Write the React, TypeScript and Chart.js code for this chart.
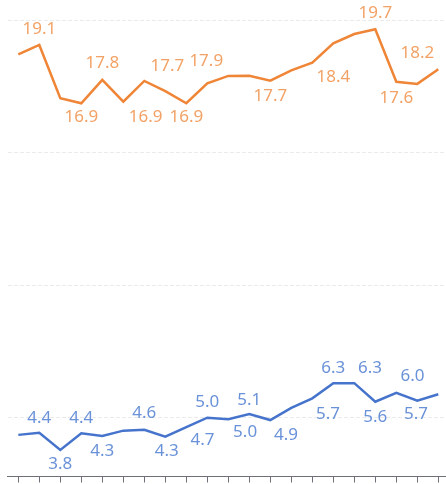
import React, { useEffect, useRef } from "react";
import { Chart, registerables } from "chart.js";

Chart.register(...registerables);

const categories = ["1", "2", "3", "4", "5", "6", "7", "8", "9", "10", "11", "12", "13", "14", "15", "16", "17", "18", "19", "20", "21"];

const orangeValues = [18.7, 19.06, 17.05, 16.86, 17.74, 16.92, 17.7, 17.32, 16.86, 17.61, 17.89, 17.9, 17.71, 18.1, 18.39, 19.12, 19.47, 19.65, 17.67, 17.59, 18.14];
const blueValues = [4.35, 4.43, 3.78, 4.41, 4.31, 4.51, 4.54, 4.28, 4.64, 5.0, 4.94, 5.14, 4.91, 5.37, 5.73, 6.3, 6.3, 5.6, 5.94, 5.64, 5.88];

// value labels: category position, value, above/below
const orangeLabelAt = [1, 3, 4, 6.06, 7.1, 8, 8.95, 12, 15, 17, 18, 19];
const orangeLabelValues = [19.1, 16.9, 17.8, 16.9, 17.7, 16.9, 17.9, 17.7, 18.4, 19.7, 17.6, 18.2];
const orangeLabelSide = ["up", "down", "up", "down", "up", "down", "up", "down", "down", "up", "down", "up"];

const blueLabelAt = [1, 2, 3, 4, 6, 7.07, 8.77, 9, 11, 10.8, 12.75, 14.75, 15, 16.75, 17, 18.77, 18.94];
const blueLabelValues = [4.4, 3.8, 4.4, 4.3, 4.6, 4.3, 4.7, 5.0, 5.1, 5.0, 4.9, 5.7, 6.3, 6.3, 5.6, 6.0, 5.7];
const blueLabelSide = ["up", "down", "up", "down", "up", "down", "down", "up", "up", "down", "down", "down", "up", "up", "down", "up", "down"];

const gridValues = [5, 10, 15, 20];
const yMin = 2.78;
const yMax = 20;

const ORANGE = "#EF8536";
const ORANGE_TEXT = "#F2A266";
const BLUE = "#4674CC";
const BLUE_TEXT = "#6A92D8";

const labelPlugin = {
  id: "valueLabels",
  afterDatasetsDraw(chart: any) {
    const ctx = chart.ctx;
    const xs = chart.scales.x;
    const ys = chart.scales.y;
    const sets = [
      { at: orangeLabelAt, vals: orangeLabelValues, side: orangeLabelSide, color: ORANGE_TEXT },
      { at: blueLabelAt, vals: blueLabelValues, side: blueLabelSide, color: BLUE_TEXT },
    ];
    ctx.save();
    ctx.font = "17px 'Noto Sans'";
    ctx.textAlign = "center";
    ctx.textBaseline = "middle";
    for (const s of sets) {
      ctx.fillStyle = s.color;
      s.at.forEach((a: number, i: number) => {
        const x = xs.getPixelForValue(a);
        const y = ys.getPixelForValue(s.vals[i]) + (s.side[i] === "up" ? -15 : 15);
        ctx.fillText(s.vals[i].toFixed(1), x, y);
      });
    }
    ctx.restore();
  },
};

export default function App() {
  const ref = useRef<HTMLCanvasElement | null>(null);
  useEffect(() => {
    if (!ref.current) return;
    const chart = new Chart(ref.current, {
      type: "line",
      data: {
        labels: categories,
        datasets: [
          { data: orangeValues, borderColor: ORANGE, borderWidth: 2.5, pointRadius: 0, tension: 0, fill: false },
          { data: blueValues, borderColor: BLUE, borderWidth: 2.5, pointRadius: 0, tension: 0, fill: false },
        ],
      },
      options: {
        animation: false,
        responsive: false,
        layout: { padding: { left: 7.8, top: 20, right: 3.2, bottom: 1.5 } },
        plugins: { legend: { display: false }, tooltip: { enabled: false } },
        scales: {
          x: {
            type: "category",
            offset: true,
            grid: { display: true, drawOnChartArea: false, drawTicks: true, tickLength: 6, color: "#6E7079", offset: false },
            border: { display: true, color: "#6E7079", width: 1 },
            ticks: { display: false },
          },
          y: {
            min: yMin,
            max: yMax,
            afterBuildTicks: (scale: any) => {
              scale.ticks = gridValues.map((v) => ({ value: v }));
            },
            grid: { color: "#EBEBEB", drawTicks: false, lineWidth: 1 },
            border: { display: false, dash: [4, 2] },
            ticks: { display: false },
          },
        },
      },
      plugins: [labelPlugin],
    });
    return () => chart.destroy();
  }, []);
  return (
    <div style={{ position: "fixed", left: 0, top: 0, width: 446, height: 484, overflow: "hidden", background: "#fff" }}>
      <canvas ref={ref} width={452} height={484} style={{ width: 452, height: 484, display: "block" }} />
    </div>
  );
}
